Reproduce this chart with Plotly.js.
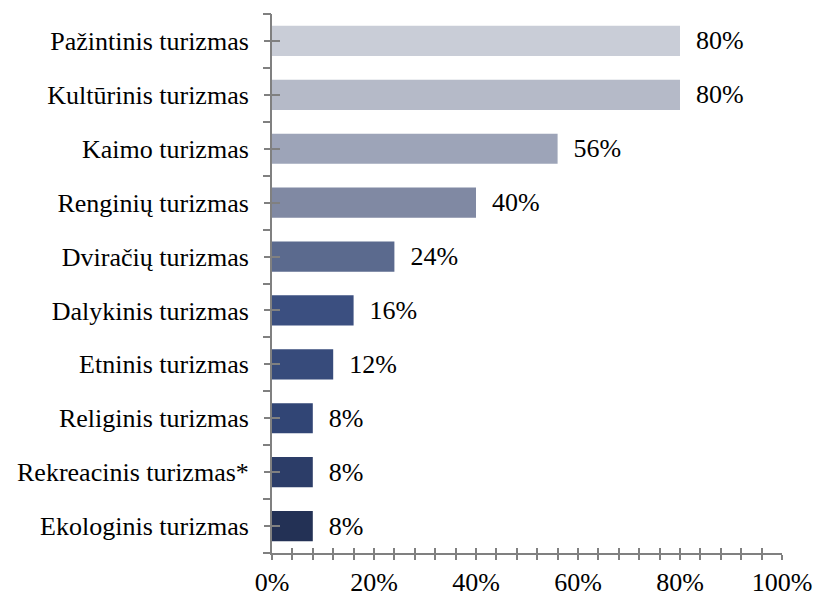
<!DOCTYPE html>
<html>
<head>
<meta charset="utf-8">
<script src="https://cdn.plot.ly/plotly-3.0.1.min.js"></script>
<style>html,body{margin:0;padding:0;background:#fff;}#chart{width:813px;height:597px;}</style>
</head>
<body>
<div id="chart"></div>
<script>
var categories = ["Pažintinis turizmas","Kultūrinis turizmas","Kaimo turizmas","Renginių turizmas","Dviračių turizmas","Dalykinis turizmas","Etninis turizmas","Religinis turizmas","Rekreacinis turizmas*","Ekologinis turizmas"];
var values = [80, 80, 56, 40, 24, 16, 12, 8, 8, 8];
var barColors = ["#c9cdd7","#b5bac8","#9da4b8","#8089a3","#5b6a8e","#3b4f80","#374b7b","#314575","#2c3d68","#233155"];
var xTickVals = [0, 20, 40, 60, 80, 100];
var xTickText = ["0%","20%","40%","60%","80%","100%"];

var centers = categories.map(function(_, i){ return i; });
var bounds = [];
for (var b = 0; b <= categories.length; b++) bounds.push(b - 0.5);
var minorX = [];
for (var m = 0; m <= 100; m += 4) minorX.push(m);

var font = "Liberation Serif";
var fs = 26;
var axisColor = "#808080";

var trace = {
  type: "bar",
  orientation: "h",
  x: values,
  y: categories,
  marker: {color: barColors},
  width: 0.56,
  text: values.map(function(v){ return "\u00a0\u00a0" + v + "%"; }),
  textposition: "outside",
  cliponaxis: false,
  textfont: {family: font, size: fs, color: "#000"},
  hoverinfo: "skip"
};

var layout = {
  width: 813, height: 597,
  margin: {l: 272, r: 31, t: 14, b: 44},
  paper_bgcolor: "#fff", plot_bgcolor: "#fff",
  showlegend: false,
  font: {family: font, size: fs, color: "#000"},
  xaxis: {
    range: [0, 100], fixedrange: true,
    showgrid: false, zeroline: false,
    showline: true, linecolor: axisColor, linewidth: 2,
    tickmode: "array", tickvals: minorX,
    ticktext: minorX.map(function(v){ var k = xTickVals.indexOf(v); return k >= 0 ? xTickText[k] : ""; }),
    ticks: "outside", ticklen: 5, tickwidth: 2, tickcolor: axisColor,
    tickfont: {family: font, size: fs, color: "#000"},
    ticklabelstandoff: 0
  },
  xaxis2: {
    overlaying: "x", range: [0, 100], fixedrange: true,
    showgrid: false, zeroline: false, showline: false,
    tickmode: "array", tickvals: minorX, showticklabels: false,
    ticks: "inside", ticklen: 5, tickwidth: 2, tickcolor: axisColor,
    anchor: "y"
  },
  yaxis: {
    type: "category", categoryorder: "array", categoryarray: categories,
    range: [9.5, -0.5], fixedrange: true,
    showgrid: false, zeroline: false,
    showline: true, linecolor: axisColor, linewidth: 2,
    ticks: "outside", ticklen: 6, tickwidth: 2, tickcolor: axisColor,
    tickfont: {family: font, size: fs, color: "#000"},
    ticklabelstandoff: 10
  },
  yaxis2: {
    overlaying: "y", range: [9.5, -0.5], fixedrange: true,
    showgrid: false, zeroline: false, showline: false,
    tickmode: "array", tickvals: bounds, showticklabels: false,
    ticks: "outside", ticklen: 8, tickwidth: 2, tickcolor: axisColor,
    anchor: "x"
  },
  yaxis3: {
    overlaying: "y", range: [9.5, -0.5], fixedrange: true,
    showgrid: false, zeroline: false, showline: false,
    tickmode: "array", tickvals: centers, showticklabels: false,
    ticks: "inside", ticklen: 8, tickwidth: 2, tickcolor: axisColor,
    anchor: "x"
  }
};

var dummyX2 = {type: "scatter", mode: "none", x: [0], y: [0], xaxis: "x2", yaxis: "y", hoverinfo: "skip", showlegend: false};
var dummyY2 = {type: "scatter", mode: "none", x: [0], y: [0], xaxis: "x", yaxis: "y2", hoverinfo: "skip", showlegend: false};
var dummyY3 = {type: "scatter", mode: "none", x: [0], y: [0], xaxis: "x", yaxis: "y3", hoverinfo: "skip", showlegend: false};

Plotly.newPlot("chart", [trace, dummyX2, dummyY2, dummyY3], layout, {displayModeBar: false, staticPlot: true});
</script>
</body>
</html>
